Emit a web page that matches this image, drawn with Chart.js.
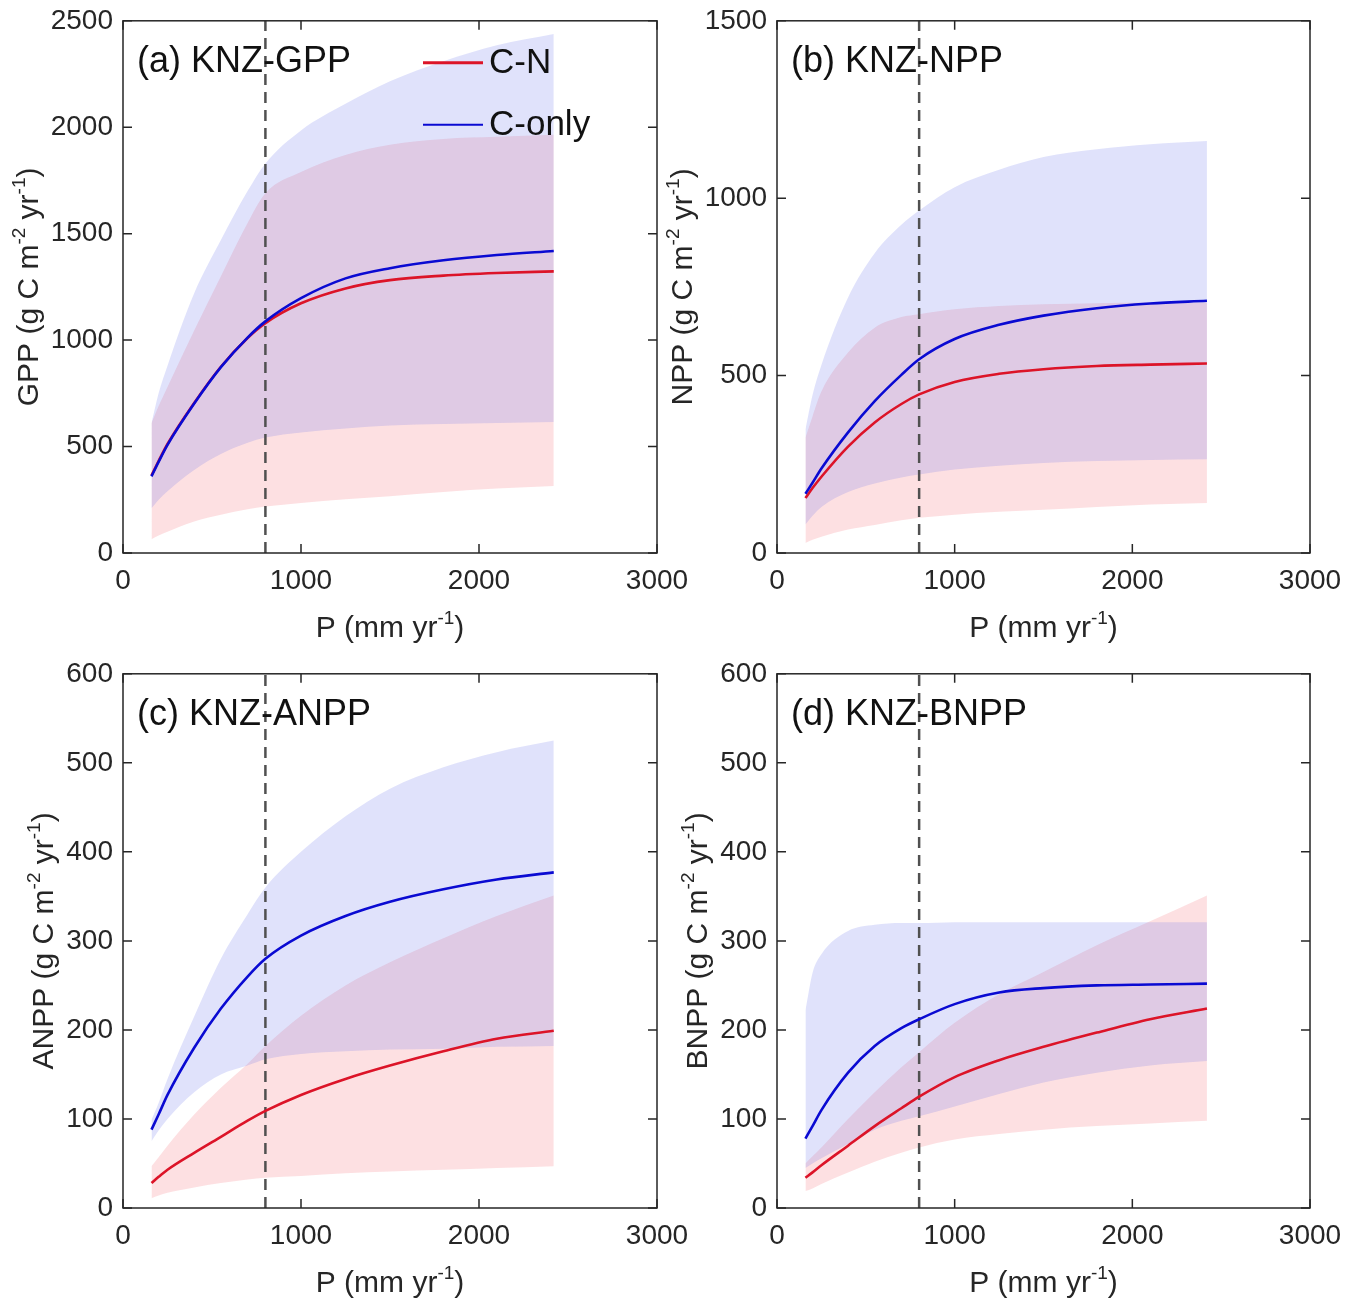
<!DOCTYPE html>
<html>
<head>
<meta charset="utf-8">
<script src="https://cdn.jsdelivr.net/npm/chart.js@4.4.1/dist/chart.umd.min.js"></script>
<style>
  body { margin: 0; background: #fff; width: 1359px; height: 1299px; overflow: hidden; position: relative; }
  .panel { position: absolute; line-height: 0; }
  canvas { display: block; }
</style>
</head>
<body>
<div class="panel" style="left:0;top:-6px"><canvas id="chartA" width="700" height="650"></canvas></div>
<div class="panel" style="left:654px;top:-6px"><canvas id="chartB" width="700" height="650"></canvas></div>
<div class="panel" style="left:0;top:647px"><canvas id="chartC" width="700" height="652"></canvas></div>
<div class="panel" style="left:654px;top:647px"><canvas id="chartD" width="700" height="652"></canvas></div>

<script>
const P = [160, 200, 250, 400, 550, 700, 800, 1000, 1250, 1500, 1800, 2100, 2420];
const P_SITE = 800;

// (a) GPP
const gppCN   = [364, 432, 512, 705, 875, 1010, 1080, 1173, 1243, 1282, 1303, 1315, 1323];
const gppC    = [360, 428, 508, 702, 873, 1012, 1088, 1197, 1290, 1338, 1375, 1400, 1419];
const gppCNHi = [610, 690, 780, 1045, 1300, 1550, 1690, 1790, 1870, 1918, 1945, 1955, 1965];
const gppCNLo = [65, 82, 100, 148, 180, 205, 218, 235, 252, 267, 287, 303, 315];
const gppCHi  = [610, 750, 880, 1220, 1470, 1700, 1830, 1985, 2110, 2216, 2310, 2385, 2438];
const gppCLo  = [210, 250, 290, 390, 465, 518, 542, 566, 585, 599, 606, 611, 615];

// (b) NPP
const nppCN   = [155, 183, 215, 300, 368, 420, 447, 482, 505, 518, 527, 531, 534];
const nppC    = [167, 198, 238, 340, 428, 502, 546, 603, 643, 669, 690, 703, 711];
const nppCNHi = [325, 385, 455, 565, 635, 665, 673, 687, 696, 701, 704, 706, 706];
const nppCNLo = [28, 37, 46, 66, 79, 92, 99, 108, 116, 122, 130, 137, 141];
const nppCHi  = [348, 445, 530, 720, 845, 925, 965, 1031, 1080, 1116, 1138, 1152, 1161];
const nppCLo  = [80, 105, 130, 172, 196, 213, 221, 235, 246, 254, 259, 262, 264];

// (c) ANPP
const anppCN   = [28, 35, 43, 62, 80, 98, 109, 127, 145, 160, 176, 190, 199];
const anppC    = [88, 105, 127, 180, 224, 260, 280, 306, 328, 344, 358, 369, 377];
const anppCNHi = [47, 57, 70, 105, 135, 162, 182, 216, 250, 276, 303, 328, 351];
const anppCNLo = [11, 14, 17, 23, 28, 32, 34, 36, 39, 41, 43, 45, 47];
const anppCHi  = [99, 118, 145, 215, 280, 330, 360, 400, 440, 471, 495, 512, 525];
const anppCLo  = [75, 87, 100, 130, 150, 160, 167, 173, 176, 178, 179, 181, 182];

// (d) BNPP
const bnppCN   = [34, 40, 48, 70, 92, 112, 125, 147, 166, 181, 197, 212, 224];
const bnppC    = [78, 92, 110, 152, 182, 202, 212, 229, 242, 247, 250, 251, 252];
const bnppCNHi = [50, 58, 68, 100, 130, 158, 175, 208, 240, 265, 295, 322, 351];
const bnppCNLo = [19, 22, 27, 40, 52, 62, 68, 77, 83, 88, 92, 95, 98];
const bnppCHi  = [222, 264, 285, 311, 318, 320, 320, 321, 321, 321, 321, 321, 321];
const bnppCLo  = [45, 50, 56, 72, 88, 98, 103, 114, 128, 141, 152, 160, 165];

const FONT = '"Liberation Sans", Arial, sans-serif';
const INK = '#262626';
const RED = '#dc1428';
const BLUE = '#0a0ad2';

Chart.defaults.font.family = FONT;

function pts(ys) {
    return P.map((x, i) => ({ x: x, y: ys[i] }));
}

// text with superscript pieces, centred on (cx, cy)
function richText(ctx, parts, cx, cy, size, angle) {
    const big = size + 'px ' + FONT;
    const small = Math.round(size * 0.64) + 'px ' + FONT;
    ctx.save();
    ctx.translate(cx, cy);
    ctx.rotate(angle);
    let w = 0;
    parts.forEach(p => { ctx.font = p[1] ? small : big; w += ctx.measureText(p[0]).width; });
    let x = -w / 2;
    ctx.textAlign = 'left';
    ctx.textBaseline = 'alphabetic';
    ctx.fillStyle = INK;
    parts.forEach(p => {
        ctx.font = p[1] ? small : big;
        ctx.fillText(p[0], x, p[1] ? size * 0.36 - size * 0.42 : size * 0.36);
        x += ctx.measureText(p[0]).width;
    });
    ctx.restore();
}

const decor = {
    id: 'decor',
    afterDatasetsDraw(chart, args, opts) {
        const { ctx, chartArea: a, scales } = chart;
        ctx.save();
        ctx.strokeStyle = INK;
        ctx.lineWidth = 1.5;
        ctx.strokeRect(a.left, a.top, a.right - a.left, a.bottom - a.top);
        ctx.beginPath();
        scales.x.ticks.forEach(t => {
            const px = scales.x.getPixelForValue(t.value);
            ctx.moveTo(px, a.bottom); ctx.lineTo(px, a.bottom - 9);
            ctx.moveTo(px, a.top); ctx.lineTo(px, a.top + 9);
        });
        scales.y.ticks.forEach(t => {
            const py = scales.y.getPixelForValue(t.value);
            ctx.moveTo(a.left, py); ctx.lineTo(a.left + 9, py);
            ctx.moveTo(a.right, py); ctx.lineTo(a.right - 9, py);
        });
        ctx.stroke();

        // panel title
        ctx.fillStyle = '#111';
        ctx.font = '36px ' + FONT;
        ctx.textAlign = 'left';
        ctx.textBaseline = 'middle';
        ctx.fillText(opts.title, a.left + 14, a.top + 41);

        // legend (panel a only)
        if (opts.legend) {
            ctx.font = '35px ' + FONT;
            [[RED, 'C-N', 42, 3], [BLUE, 'C-only', 104, 2]].forEach(l => {
                ctx.strokeStyle = l[0];
                ctx.lineWidth = l[3];
                ctx.beginPath();
                ctx.moveTo(a.left + 300, a.top + l[2]);
                ctx.lineTo(a.left + 360, a.top + l[2]);
                ctx.stroke();
                ctx.fillStyle = '#111';
                ctx.fillText(l[1], a.left + 366, a.top + l[2] + 1);
            });
        }

        // axis titles
        ctx.font = '28px ' + FONT;
        const tw = Math.max(...scales.y.ticks.map(t => ctx.measureText(t.label).width));
        richText(ctx, [['P (mm yr', false], ['-1', true], [')', false]],
            (a.left + a.right) / 2, a.bottom + 73, 30, 0);
        richText(ctx, [[opts.ylabel + ' (g C m', false], ['-2', true], [' yr', false], ['-1', true], [')', false]],
            a.left - 10 - tw - 24, (a.top + a.bottom) / 2, 30, -Math.PI / 2);
        ctx.restore();
    }
};

function makeChart(id, cfg) {
    const curve = { pointRadius: 0, cubicInterpolationMode: 'monotone' };
    const band = Object.assign({ borderWidth: 0, borderColor: 'rgba(0,0,0,0)' }, curve);
    new Chart(document.getElementById(id), {
        type: 'line',
        data: {
            datasets: [
                Object.assign({ label: 'C-only', data: pts(cfg.c), borderColor: BLUE, borderWidth: 2.6, fill: false }, curve),
                Object.assign({ label: 'C-N', data: pts(cfg.cn), borderColor: RED, borderWidth: 2.6, fill: false }, curve),
                { label: 'site', data: [{ x: P_SITE, y: 0 }, { x: P_SITE, y: cfg.ymax }], borderColor: '#505050', borderWidth: 2.5, borderDash: [11, 7], pointRadius: 0, fill: false },
                Object.assign({ label: 'C-only range', data: pts(cfg.cHi), fill: '+1', backgroundColor: 'rgba(100,110,235,0.2)' }, band),
                Object.assign({ label: 'C-only low', data: pts(cfg.cLo), fill: false }, band),
                Object.assign({ label: 'C-N range', data: pts(cfg.cnHi), fill: '+1', backgroundColor: 'rgba(245,100,110,0.2)' }, band),
                Object.assign({ label: 'C-N low', data: pts(cfg.cnLo), fill: false }, band)
            ]
        },
        options: {
            responsive: false,
            animation: false,
            layout: { autoPadding: false, padding: { left: 0, top: cfg.top, right: cfg.right, bottom: 0 } },
            scales: {
                x: {
                    type: 'linear', min: 0, max: 3000,
                    ticks: { stepSize: 1000, color: INK, font: { size: 28 }, padding: 11, maxRotation: 0, autoSkip: false,
                        callback: v => String(v) },
                    grid: { display: false, drawTicks: false },
                    border: { display: false },
                    afterFit: s => { s.height = cfg.xh; }
                },
                y: {
                    min: 0, max: cfg.ymax,
                    ticks: { stepSize: cfg.step, color: INK, font: { size: 28 }, padding: 10, autoSkip: false,
                        callback: v => String(v) },
                    grid: { display: false, drawTicks: false },
                    border: { display: false },
                    afterFit: s => { s.width = 123; }
                }
            },
            plugins: {
                legend: { display: false },
                tooltip: { enabled: false },
                decor: { title: cfg.title, ylabel: cfg.ylabel, legend: cfg.legend }
            }
        },
        plugins: [decor]
    });
}

makeChart('chartA', { title: '(a) KNZ-GPP', ylabel: 'GPP', legend: true, ymax: 2500, step: 500, top: 20, right: 43, xh: 91,
    cn: gppCN, c: gppC, cnHi: gppCNHi, cnLo: gppCNLo, cHi: gppCHi, cLo: gppCLo });
makeChart('chartB', { title: '(b) KNZ-NPP', ylabel: 'NPP', ymax: 1500, step: 500, top: 19, right: 44, xh: 91,
    cn: nppCN, c: nppC, cnHi: nppCNHi, cnLo: nppCNLo, cHi: nppCHi, cLo: nppCLo });
makeChart('chartC', { title: '(c) KNZ-ANPP', ylabel: 'ANPP', ymax: 600, step: 100, top: 20, right: 43, xh: 91,
    cn: anppCN, c: anppC, cnHi: anppCNHi, cnLo: anppCNLo, cHi: anppCHi, cLo: anppCLo });
makeChart('chartD', { title: '(d) KNZ-BNPP', ylabel: 'BNPP', ymax: 600, step: 100, top: 20, right: 44, xh: 91,
    cn: bnppCN, c: bnppC, cnHi: bnppCNHi, cnLo: bnppCNLo, cHi: bnppCHi, cLo: bnppCLo });
</script>
</body>
</html>
